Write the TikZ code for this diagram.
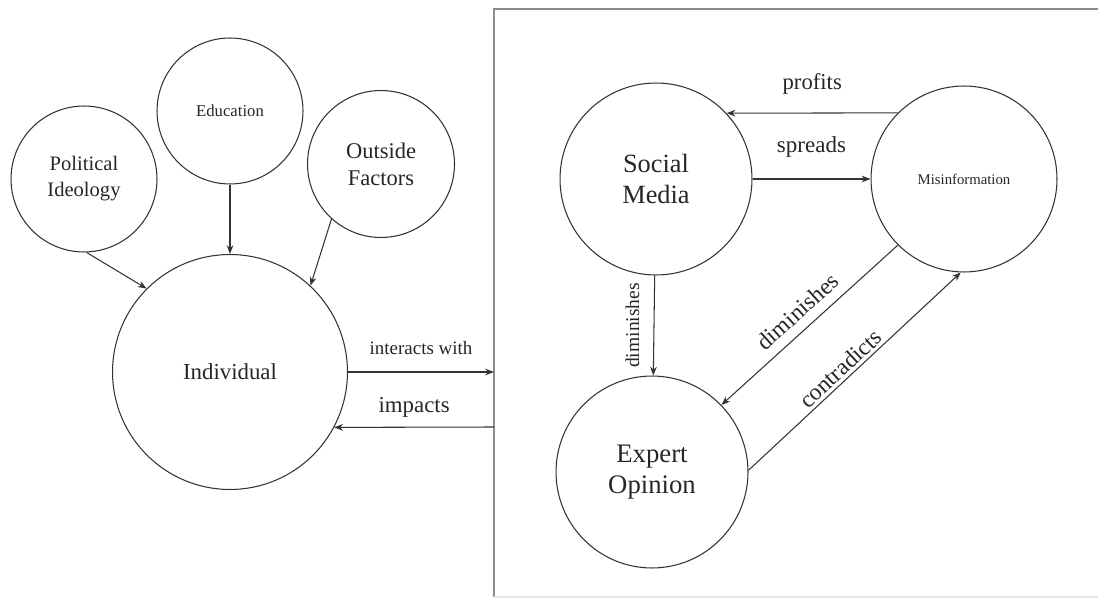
\documentclass[tikz,border=0pt]{standalone}
\usepackage{fontspec}
\setmainfont{Liberation Serif}
\usetikzlibrary{arrows.meta,positioning}

\tikzset{
  bubble/.style={circle, draw=black!80, line width=0.6pt, inner sep=0pt, align=center, text=black!85},
  link/.style={draw=black!80, line width=0.6pt, -{Stealth[length=5pt,width=3.8pt]}},
  lbl/.style={inner sep=1pt, text=black!85},
}

\begin{document}
\begin{tikzpicture}[x=0.02cm, y=0.02cm]
  \useasboundingbox (0,0) rectangle (1098,599);

  % what shapes the individual
  \node[bubble, minimum size=2.92cm, font=\fontsize{11.7}{14.7}\selectfont] (pol) at (84,420) {Political\\Ideology};
  \node[bubble, minimum size=2.92cm, font=\fontsize{9.5}{11.4}\selectfont] (edu) at (230,488) {Education};
  \node[bubble, minimum size=2.94cm, font=\fontsize{12.8}{15.3}\selectfont] (out) at (381,435) {Outside\\Factors};
  \node[bubble, minimum size=4.7cm, font=\fontsize{13}{15.6}\selectfont] (ind) at (230,227) {Individual};

  % the media box
  \draw[black!45, line width=1.2pt] (1098,590) -- (494,590) -- (494,2);
  \draw[black!10, line width=1pt] (494,2) -- (1098,2);
  \coordinate (boxin) at (494,227);
  \coordinate (boxout) at (494,172);

  \node[bubble, minimum size=3.84cm, font=\fontsize{15}{18}\selectfont] (sm) at (656,420) {Social\\Media};
  \node[bubble, minimum size=3.72cm, font=\fontsize{8.4}{10}\selectfont] (mis) at (964,420) {Misinformation};
  \node[bubble, minimum size=3.84cm, font=\fontsize{15.2}{17.5}\selectfont] (exp) at (652,127) {Expert\\Opinion};

  \draw[link] (pol.-88) -- (ind.135);
  \draw[link] (edu.south) -- (ind.north);
  \draw[link] (out.228) -- (ind.47);

  \draw[link] (ind.east) -- node[lbl, midway, above=8.6pt, font=\fontsize{10.8}{13}\selectfont] (linter) {interacts with} (boxin);
  \draw[link] (boxout) -- node[lbl, midway, above=4.1pt, font=\fontsize{13}{15.6}\selectfont] (limp) {impacts} (ind.-28);

  \draw[link] (mis.135) -- node[lbl, midway, above=9.1pt, font=\fontsize{12.9}{15.5}\selectfont] (lprof) {profits} (sm.43);
  \draw[link] (sm.east) -- node[lbl, midway, above=11pt, font=\fontsize{13.1}{15.7}\selectfont] (lspr) {spreads} (mis.west);
  \draw[link] (sm) -- node[lbl, midway, xshift=-7pt, rotate=90, anchor=south, font=\fontsize{11.1}{13.3}\selectfont] (ldimA) {diminishes} (exp);
  \draw[link] (mis.225) -- node[lbl, midway, sloped, above=4.3pt, font=\fontsize{13.4}{16}\selectfont] (ldimB) {diminishes} (exp.44);
  \draw[link] (exp.1) -- node[lbl, pos=.47, sloped, above=0.6pt, font=\fontsize{13.4}{16}\selectfont] (lcon) {contradicts} (mis.268);
\end{tikzpicture}
\end{document}
